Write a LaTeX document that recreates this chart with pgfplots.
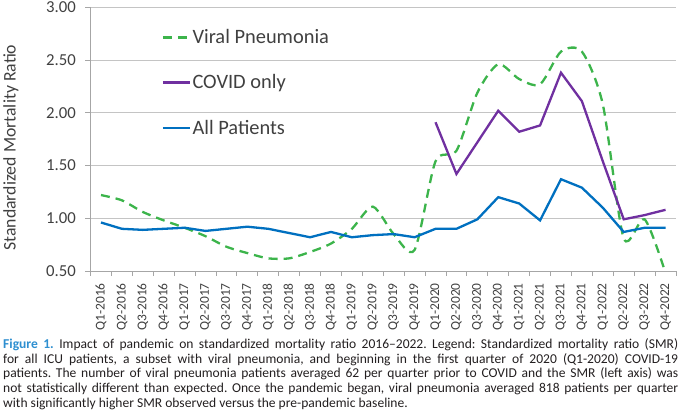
\documentclass[border=0pt]{standalone}
\usepackage{fontspec}
\setmainfont{Carlito}
\usepackage{pgfplots}
\pgfplotsset{compat=1.18}
\definecolor{vgreen}{HTML}{3CB44B}
\definecolor{cpurple}{HTML}{7030A0}
\definecolor{ablue}{HTML}{0070C0}
\definecolor{gridgray}{HTML}{C4C4C4}
\definecolor{axgray}{HTML}{A6A6A6}
\definecolor{capblue}{HTML}{2E8FD0}
\definecolor{captext}{HTML}{231F20}
\definecolor{labtext}{HTML}{404040}
\frenchspacing
\begin{document}
\begin{tikzpicture}
\begin{axis}[
  at={(0,0)}, anchor=south west,
  scale only axis, width=585.5bp, height=263.7bp,
  xmin=-0.5, xmax=27.5, ymin=0.5, ymax=3,
  axis x line*=bottom, axis y line*=left,
  axis line style={axgray, line width=0.9bp},
  ytick={0.5,1,1.5,2,2.5,3},
  ymajorgrids, grid style={gridgray, line width=0.9bp},
  yticklabel style={/pgf/number format/.cd, fixed, fixed zerofill, precision=2, /tikz/.cd,
     font=\fontsize{16.8}{18}\selectfont, text=labtext, inner sep=0pt, anchor=east},
  yticklabel shift=9.5bp,
  xtick={0,...,27},
  xticklabels={Q1-2016,Q2-2016,Q3-2016,Q4-2016,Q1-2017,Q2-2017,Q3-2017,Q4-2017,Q1-2018,Q2-2018,Q3-2018,Q4-2018,Q1-2019,Q2-2019,Q3-2019,Q4-2019,Q1-2020,Q2-2020,Q3-2020,Q4-2020,Q1-2021,Q2-2021,Q3-2021,Q4-2021,Q1-2022,Q2-2022,Q3-2022,Q4-2022},
  xticklabel style={rotate=90, anchor=east, inner sep=0pt, font=\fontsize{13.5}{15}\selectfont, text=labtext},
  xticklabel shift=7bp,
  major x tick style={draw=none},
  minor xtick={-0.5,0.5,...,27.5},
  tick align=outside, major tick length=5bp, minor tick length=5bp,
  tick style={axgray, line width=0.9bp},
  /pgf/number format/assume math mode=true,
  ylabel={Standardized Mortality Ratio},
  ylabel style={at={(axis description cs:-0.1494,0.468)}, anchor=north, inner sep=0pt, font=\fontsize{17.8}{20}\selectfont, text=labtext},
  clip=true,
  legend style={draw=none, fill=none, at={(axis description cs:0.1213,0.922)}, anchor=north west,
     inner sep=0pt, row sep=26.5bp, font=\fontsize{20.5}{22}\selectfont, text=labtext,
     nodes={inner sep=1.5bp, text depth=0.15em}},
  legend cell align=left,
  legend image code/.code={\draw[#1] (0bp,0bp) -- (27bp,0bp);},
]
\addplot[vgreen, line width=2.3bp, dash pattern=on 9bp off 6bp, smooth, tension=0.45] coordinates {
(0,1.22) (1,1.17) (2,1.06) (3,0.98) (4,0.91) (5,0.83) (6,0.73) (7,0.67) (8,0.62) (9,0.62)
(10,0.68) (11,0.76) (12,0.90) (13,1.11) (14,0.85) (15,0.70) (16,1.54) (17,1.64) (18,2.19) (19,2.46)
(20,2.32) (21,2.27) (22,2.58) (23,2.58) (24,2.08) (25,0.81) (26,0.99) (27,0.48)};
\addlegendentry{Viral Pneumonia}
\addplot[cpurple, line width=2.3bp] coordinates {
(16,1.91) (17,1.42) (18,1.72) (19,2.02) (20,1.82) (21,1.88) (22,2.38) (23,2.11) (24,1.54) (25,0.99) (26,1.03) (27,1.08)};
\addlegendentry{COVID only}
\addplot[ablue, line width=2.3bp] coordinates {
(0,0.96) (1,0.90) (2,0.89) (3,0.90) (4,0.91) (5,0.88) (6,0.90) (7,0.92) (8,0.90) (9,0.86)
(10,0.82) (11,0.87) (12,0.82) (13,0.84) (14,0.85) (15,0.82) (16,0.90) (17,0.90) (18,0.99) (19,1.20)
(20,1.14) (21,0.98) (22,1.37) (23,1.29) (24,1.10) (25,0.87) (26,0.91) (27,0.91)};
\addlegendentry{All Patients}
\end{axis}
\begin{scope}[every node/.style={anchor=base west, inner sep=0pt, font=\fontsize{13.6}{15}\selectfont, text=captext}]
\node at (-87.5bp,-77.3bp) {\makebox[675bp][s]{\textcolor{capblue}{\textbf{Figure 1.}} Impact of pandemic on standardized mortality ratio 2016–2022. Legend: Standardized mortality ratio (SMR)}};
\node at (-87.5bp,-92.3bp) {\makebox[675bp][s]{for all ICU patients, a subset with viral pneumonia, and beginning in the first quarter of 2020 (Q1-2020) COVID-19}};
\node at (-87.5bp,-106.7bp) {\makebox[675bp][s]{patients. The number of viral pneumonia patients averaged 62 per quarter prior to COVID and the SMR (left axis) was}};
\node at (-87.5bp,-121.3bp) {\makebox[675bp][s]{not statistically different than expected. Once the pandemic began, viral pneumonia averaged 818 patients per quarter}};
\node at (-87.5bp,-136.3bp) {with significantly higher SMR observed versus the pre-pandemic baseline.};
\end{scope}
\pgfresetboundingbox
\path[use as bounding box] (-90.5bp,-143bp) rectangle (589.5bp,271bp);
\end{tikzpicture}
\end{document}
